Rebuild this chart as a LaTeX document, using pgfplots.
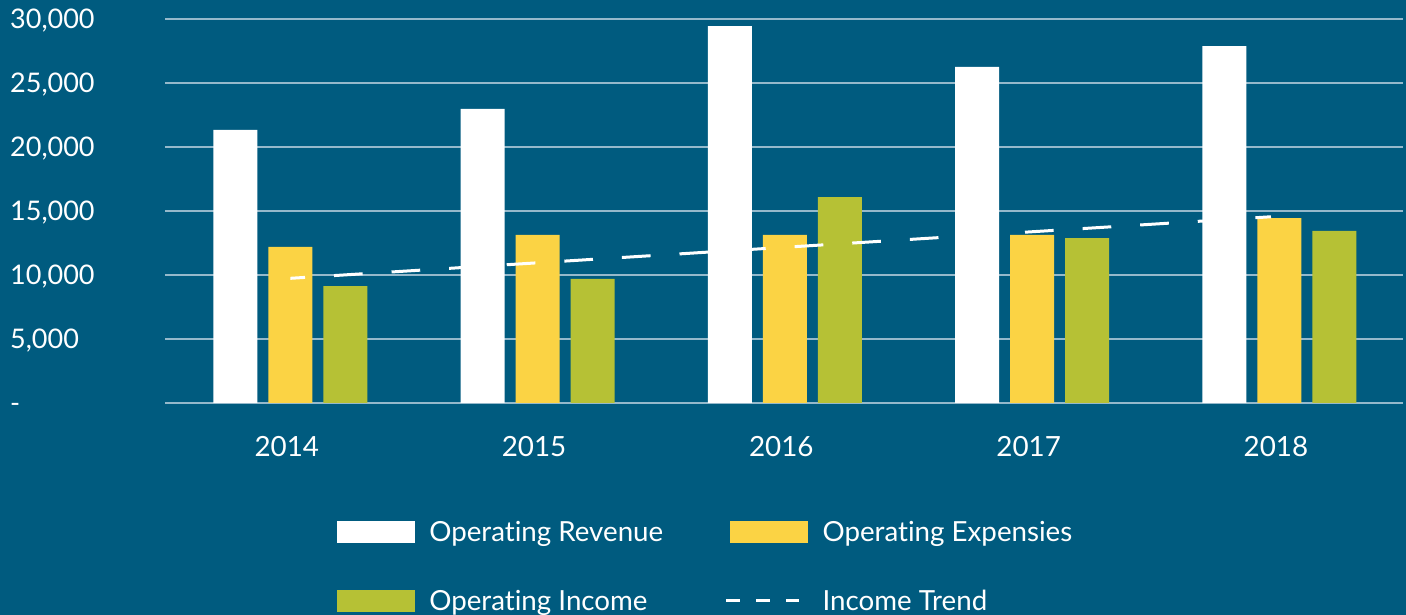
\documentclass[border=0pt]{standalone}
\usepackage{pgfplots}
\pgfplotsset{compat=1.18}
\usepackage{fontspec}
\setmainfont{Lato}[Ligatures=NoCommon]
\definecolor{bg}{HTML}{005B7F}
\definecolor{expc}{HTML}{FBD344}
\definecolor{incc}{HTML}{B6C135}
\definecolor{gridc}{HTML}{95B9CB}
\begin{document}
\begin{tikzpicture}[x=1pt,y=1pt]
\path[use as bounding box, fill=bg] (0,0) rectangle (1406,615);
\begin{axis}[
  at={(165pt,212pt)}, anchor=south west,
  width=1238pt, height=384pt, scale only axis,
  xmin=-0.507, xmax=4.5, ymin=0, ymax=30000,
  scaled y ticks=false,
  axis line style={draw=none},
  major tick length=0pt,
  ytick={0,5000,...,30000},
  yticklabels={-,{5,000},{10,000},{15,000},{20,000},{25,000},{30,000}},
  xtick={0,...,4},
  xticklabels={2014,2015,2016,2017,2018},
  ymajorgrids,
  grid style={gridc, line width=2.5pt},
  yticklabel style={anchor=base west, inner sep=0pt, xshift=-155pt, yshift=-10pt, text=white, font=\fontsize{27}{30}\selectfont},
  xticklabel style={anchor=base, inner sep=0pt, yshift=-54pt, xshift=-3.5pt, text=white, font=\fontsize{27.8}{30}\selectfont},
  legend columns=2,
  legend cell align=left,
  legend style={draw=none, fill=none, at={(0.1389,-0.3073)}, anchor=north west,
    inner sep=0pt, outer sep=0pt, row sep=47pt,
    font=\fontsize{27.7}{30}\selectfont, text=white,
    nodes={inner sep=0pt, text=white},
    /tikz/every even column/.append style={column sep=67pt},
    /tikz/every odd column/.append style={column sep=15pt}},
]
\addlegendimage{legend image code/.code={\fill[white] (0pt,-10.5pt) rectangle (77pt,10.5pt);}}
\addlegendentry{Operating Revenue}
\addlegendimage{legend image code/.code={\fill[expc] (0pt,-10.5pt) rectangle (77pt,10.5pt);}}
\addlegendentry{Operating Expensies}
\addlegendimage{legend image code/.code={\fill[incc] (0pt,-10.5pt) rectangle (77pt,10.5pt);}}
\addlegendentry{Operating Income}
\addlegendimage{legend image code/.code={\path[draw=none, fill=none] (0pt,-10.5pt) rectangle (77pt,10.5pt); \draw[overlay, white, line width=2.5pt, dash pattern=on 14pt off 16pt] (-4pt,0pt) -- (69pt,0pt);}}
\addlegendentry{Income Trend}

% Operating Expensies
\addplot[ybar, bar width=44pt, bar shift=0pt, fill=expc, draw=none, forget plot]
  coordinates {(0,12190) (1,13125) (2,13125) (3,13125) (4,14450)};
% Operating Income
\addplot[ybar, bar width=44pt, bar shift=55pt, fill=incc, draw=none, forget plot]
  coordinates {(0,9140) (1,9690) (2,16090) (3,12890) (4,13440)};
% Income Trend
\addplot[white, line width=3pt, dash pattern=on 28.7pt off 29pt, dash phase=14pt, forget plot]
  coordinates {(0,9740) (3.966,14550)};
% Operating Revenue
\addplot[ybar, bar width=44pt, bar shift=-55pt, fill=white, draw=none, forget plot]
  coordinates {(0,21330) (1,22970) (2,29450) (3,26250) (4,27890)};
\end{axis}
\end{tikzpicture}
\end{document}
